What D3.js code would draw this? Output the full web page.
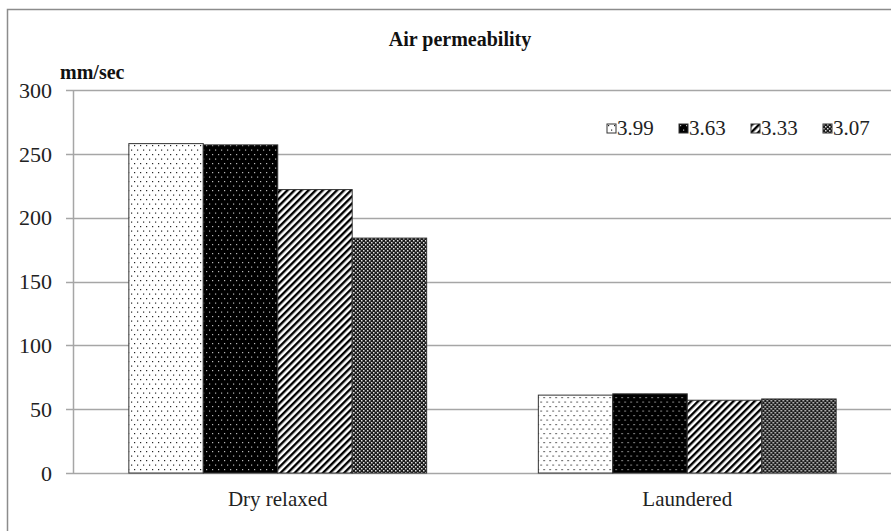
<!DOCTYPE html>
<html>
<head>
<meta charset="utf-8">
<script src="https://cdn.jsdelivr.net/npm/d3@7"></script>
<style>
  body { margin: 0; background: #fff; }
  svg { display: block; }
  svg text { font-family: 'Liberation Serif', 'Times New Roman', serif; }
</style>
</head>
<body>
<div id="chart"></div>
<script>
var width = 891,
    height = 531;

// data
var categories = ["Dry relaxed", "Laundered"];
var seriesNames = ["3.99", "3.63", "3.33", "3.07"];
var values399 = [258, 61];
var values363 = [257, 62];
var values333 = [222, 57];
var values307 = [184, 58];
var yTicks = [0, 50, 100, 150, 200, 250, 300];

var seriesValues = [values399, values363, values333, values307];
var patternIds = ["pDots", "pDark", "pStripe", "pCheck"];

var margin = {left: 73, top: 90, right: 892, bottom: 473};

var svg = d3.select("#chart").append("svg")
    .attr("width", width)
    .attr("height", height);

var defs = svg.append("defs");

// white with black dots
var p1 = defs.append("pattern").attr("id", "pDots")
    .attr("patternUnits", "userSpaceOnUse").attr("width", 6).attr("height", 9);
p1.append("rect").attr("width", 6).attr("height", 9).attr("fill", "#fff");
p1.append("rect").attr("x", 1).attr("y", 1).attr("width", 1.2).attr("height", 1.2).attr("fill", "#222");
p1.append("rect").attr("x", 4).attr("y", 5.5).attr("width", 1.2).attr("height", 1.2).attr("fill", "#222");

// black with white dots
var p2 = defs.append("pattern").attr("id", "pDark")
    .attr("patternUnits", "userSpaceOnUse").attr("width", 6).attr("height", 9);
p2.append("rect").attr("width", 6).attr("height", 9).attr("fill", "#000");
p2.append("rect").attr("x", 1).attr("y", 1).attr("width", 1.2).attr("height", 1.2).attr("fill", "#bbb");
p2.append("rect").attr("x", 4).attr("y", 5.5).attr("width", 1.2).attr("height", 1.2).attr("fill", "#bbb");

// diagonal stripes
var p3 = defs.append("pattern").attr("id", "pStripe")
    .attr("patternUnits", "userSpaceOnUse").attr("width", 5).attr("height", 5)
    .attr("patternTransform", "rotate(45)");
p3.append("rect").attr("width", 5).attr("height", 5).attr("fill", "#fff");
p3.append("rect").attr("width", 2.4).attr("height", 5).attr("fill", "#000");

// fine checker
var p4 = defs.append("pattern").attr("id", "pCheck")
    .attr("patternUnits", "userSpaceOnUse").attr("width", 4).attr("height", 4);
p4.append("rect").attr("width", 4).attr("height", 4).attr("fill", "#1a1a1a");
p4.append("rect").attr("x", 0).attr("y", 0).attr("width", 1.5).attr("height", 1.5).attr("fill", "#ddd");
p4.append("rect").attr("x", 2).attr("y", 2).attr("width", 1.5).attr("height", 1.5).attr("fill", "#ddd");

// outer chart border (only left and top fall inside the picture)
svg.append("rect")
    .attr("x", 7.5).attr("y", 9.5)
    .attr("width", 900).attr("height", 540)
    .attr("fill", "none")
    .attr("stroke", "#8c8c8c")
    .attr("stroke-width", 1.5);

var x0 = d3.scaleBand()
    .domain(categories)
    .range([margin.left, margin.right])
    .padding(0);

var x1 = d3.scaleBand()
    .domain(seriesNames)
    .range([0, x0.bandwidth()])
    .paddingInner(0)
    .paddingOuter(0.75);

var y = d3.scaleLinear()
    .domain([0, 300])
    .range([margin.bottom, margin.top]);

// gridlines
svg.append("g").selectAll("line")
    .data(yTicks)
    .enter().append("line")
    .attr("x1", margin.left - 7)
    .attr("x2", margin.right)
    .attr("y1", function(d) { return Math.round(y(d)) + 0.5; })
    .attr("y2", function(d) { return Math.round(y(d)) + 0.5; })
    .attr("stroke", "#a6a6a6")
    .attr("stroke-width", 1.5);

// y axis line
svg.append("line")
    .attr("x1", margin.left + 0.5).attr("x2", margin.left + 0.5)
    .attr("y1", margin.top).attr("y2", margin.bottom)
    .attr("stroke", "#a6a6a6")
    .attr("stroke-width", 1.5);

// y tick labels
svg.append("g").selectAll("text")
    .data(yTicks)
    .enter().append("text")
    .attr("x", 52)
    .attr("y", function(d) { return y(d); })
    .attr("dy", "0.35em")
    .attr("text-anchor", "end")
    .attr("font-size", 22)
    .attr("fill", "#222")
    .text(function(d) { return d; });

// bars
var groups = svg.append("g").selectAll("g")
    .data(categories)
    .enter().append("g")
    .attr("transform", function(d) { return "translate(" + x0(d) + ",0)"; });

groups.selectAll("rect")
    .data(function(d, i) {
      return seriesNames.map(function(s, j) { return {s: s, j: j, v: seriesValues[j][i]}; });
    })
    .enter().append("rect")
    .attr("x", function(d) { return x1(d.s); })
    .attr("y", function(d) { return y(d.v); })
    .attr("width", x1.bandwidth())
    .attr("height", function(d) { return y(0) - y(d.v); })
    .attr("fill", function(d) { return "url(#" + patternIds[d.j] + ")"; })
    .attr("stroke", "#333")
    .attr("stroke-width", 1);

// category labels
svg.append("g").selectAll("text")
    .data(categories)
    .enter().append("text")
    .attr("x", function(d) { return x0(d) + x0.bandwidth() / 2; })
    .attr("y", 506)
    .attr("text-anchor", "middle")
    .attr("font-size", 21)
    .attr("fill", "#222")
    .text(function(d) { return d; });

// title & unit
svg.append("text")
    .attr("x", 460).attr("y", 46)
    .attr("text-anchor", "middle")
    .attr("font-size", 20)
    .attr("font-weight", "bold")
    .attr("fill", "#111")
    .text("Air permeability");

svg.append("text")
    .attr("x", 60).attr("y", 79)
    .attr("font-size", 20)
    .attr("font-weight", "bold")
    .attr("fill", "#111")
    .text("mm/sec");

// legend
var legend = svg.append("g").selectAll("g")
    .data(seriesNames)
    .enter().append("g")
    .attr("transform", function(d, i) { return "translate(" + (607 + i * 72) + ",124)"; });

legend.append("rect")
    .attr("width", 9).attr("height", 9)
    .attr("fill", function(d, i) { return "url(#" + patternIds[i] + ")"; })
    .attr("stroke", "#333")
    .attr("stroke-width", 1);

legend.append("text")
    .attr("x", 10).attr("y", 11)
    .attr("font-size", 21)
    .attr("fill", "#222")
    .text(function(d) { return d; });
</script>
</body>
</html>
